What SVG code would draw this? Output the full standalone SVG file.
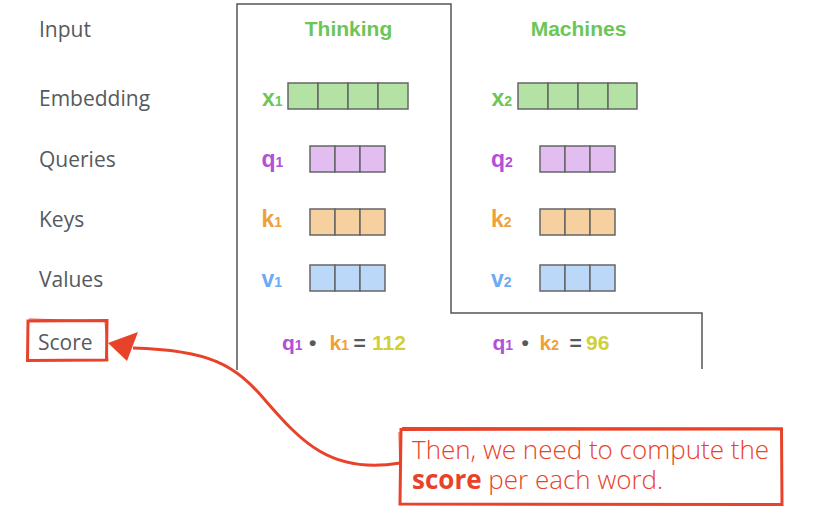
<svg xmlns="http://www.w3.org/2000/svg" width="822" height="530" viewBox="0 0 822 530">
<style>
.lbl{font-family:"Open Sans","Liberation Sans",sans-serif;font-size:21px;fill:#555a5f}
.word{font-family:"Liberation Sans",Arial,sans-serif;font-weight:bold;font-size:21px;fill:#6cc657;text-anchor:middle}
.v{font-family:"Liberation Sans",Arial,sans-serif;font-weight:bold;font-size:23px}
.sub{font-size:14px}
.f{font-family:"Liberation Sans",Arial,sans-serif;font-weight:bold;font-size:21px}
.cell{stroke:#666;stroke-width:1.5}
.g{fill:#6cc657}.gf{fill:#b3e2a4}
.p{fill:#b350d8}.pf{fill:#e1bdf0}
.o{fill:#f0a03a}.of{fill:#f6d09f}
.b{fill:#6eaaf3}.bf{fill:#bcd8f8}
.y{fill:#d0d03a}.d{fill:#555a5f}
.red{stroke:#e8432a;fill:none}
.call{font-family:"Open Sans","Liberation Sans",sans-serif;font-size:26px;font-weight:300;fill:#e8432a}
</style>
<rect width="822" height="530" fill="#fff"/>
<g id="frame">
<path d="M237,370 V4 H451 V313 H702 V369" fill="none" stroke="#555" stroke-width="1.5"/>
</g>
<g id="row-labels">
<text class="lbl" x="39" y="36.5">Input</text>
<text class="lbl" x="39" y="106">Embedding</text>
<text class="lbl" x="39" y="167">Queries</text>
<text class="lbl" x="39" y="227">Keys</text>
<text class="lbl" x="39" y="287">Values</text>
</g>
<g id="score-label">
<path class="red" stroke-width="3" d="M28,321 L107,320.5 L106.5,360 L27.5,360.5 Z"/>
<path class="red" stroke-width="1" d="M29,319 L106,321 M105,321 L108,361"/>
<text class="lbl" x="38" y="349.5">Score</text>
</g>
<g id="thinking">
<text class="word" x="348.5" y="36">Thinking</text>
<text class="v g" x="262" y="106">x<tspan class="sub">1</tspan></text>
<g class="cell gf"><rect x="288" y="83" width="30" height="26"/><rect x="318" y="83" width="30" height="26"/><rect x="348" y="83" width="30" height="26"/><rect x="378" y="83" width="30" height="26"/></g>
<text class="v p" x="261.5" y="167">q<tspan class="sub">1</tspan></text>
<g class="cell pf"><rect x="310" y="146" width="25" height="26"/><rect x="335" y="146" width="25" height="26"/><rect x="360" y="146" width="25" height="26"/></g>
<text class="v o" x="261.5" y="226.5">k<tspan class="sub">1</tspan></text>
<g class="cell of"><rect x="310" y="209" width="25" height="26"/><rect x="335" y="209" width="25" height="26"/><rect x="360" y="209" width="25" height="26"/></g>
<text class="v b" x="261.5" y="287">v<tspan class="sub">1</tspan></text>
<g class="cell bf"><rect x="310" y="265" width="25" height="26"/><rect x="335" y="265" width="25" height="26"/><rect x="360" y="265" width="25" height="26"/></g>
</g>
<g id="machines">
<text class="word" x="578.5" y="36">Machines</text>
<text class="v g" x="491.5" y="106">x<tspan class="sub">2</tspan></text>
<g class="cell gf"><rect x="518" y="83" width="30" height="26"/><rect x="548" y="83" width="30" height="26"/><rect x="578" y="83" width="30" height="26"/><rect x="608" y="83" width="29" height="26"/></g>
<text class="v p" x="491" y="167">q<tspan class="sub">2</tspan></text>
<g class="cell pf"><rect x="540" y="146" width="25" height="26"/><rect x="565" y="146" width="25" height="26"/><rect x="590" y="146" width="25" height="26"/></g>
<text class="v o" x="491" y="226.5">k<tspan class="sub">2</tspan></text>
<g class="cell of"><rect x="540" y="209" width="25" height="26"/><rect x="565" y="209" width="25" height="26"/><rect x="590" y="209" width="25" height="26"/></g>
<text class="v b" x="491" y="287">v<tspan class="sub">2</tspan></text>
<g class="cell bf"><rect x="540" y="265" width="25" height="26"/><rect x="565" y="265" width="25" height="26"/><rect x="590" y="265" width="25" height="26"/></g>
</g>
<g id="score1">
<text class="f p" x="282" y="350">q<tspan class="sub">1</tspan></text>
<text class="f d" x="309" y="350">•</text>
<text class="f o" x="329.5" y="350">k<tspan class="sub">1</tspan></text>
<text class="f d" x="353.5" y="350">=</text>
<text class="f y" x="372" y="350">112</text>
</g>
<g id="score2">
<text class="f p" x="492.5" y="350">q<tspan class="sub">1</tspan></text>
<text class="f d" x="521.5" y="350">•</text>
<text class="f o" x="539.5" y="350">k<tspan class="sub">2</tspan></text>
<text class="f d" x="569.5" y="350">=</text>
<text class="f y" x="586" y="350">96</text>
</g>
<g id="callout">
<path class="red" stroke-width="3" d="M401,429.5 L781.5,429 L782,504.5 L400,504 Z"/>
<path class="red" stroke-width="1" d="M402,427.5 L783,428 M399,432 L400.5,505"/>
<text class="call" x="412" y="459">Then, we need to compute the</text>
<text class="call" x="412" y="489"><tspan font-weight="bold">score</tspan> per each word.</text>
</g>
<g id="connectors">
<path class="red" stroke-width="3" d="M400,463 C330,475 300,440 265,400 C235,365 210,350 133,348"/>
<polygon points="108,343 138,332 127,361" fill="#e8432a"/>
</g>
</svg>
